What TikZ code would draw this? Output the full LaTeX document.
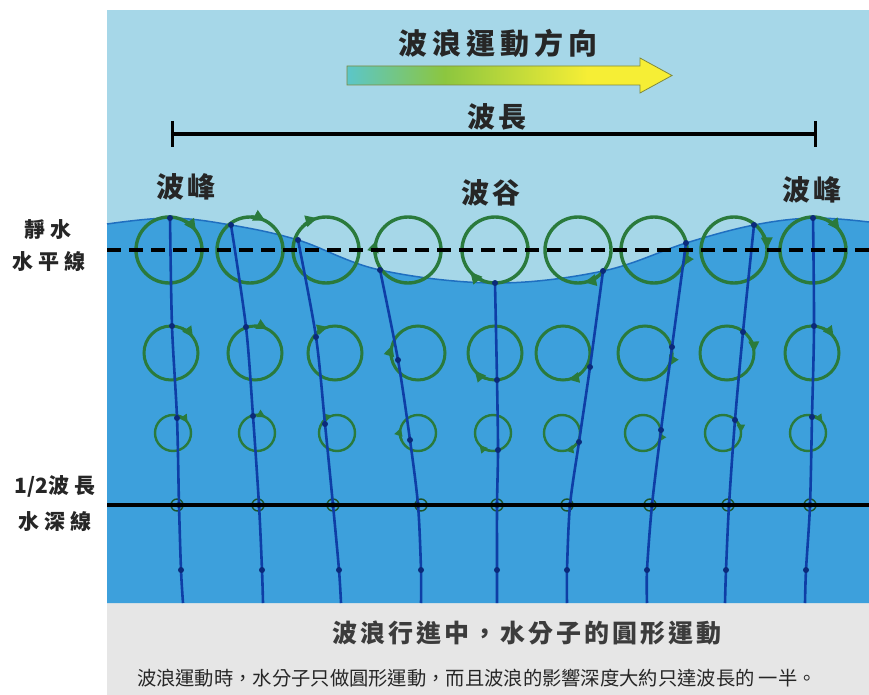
\documentclass[tikz,border=0pt]{standalone}
\usepackage{fontspec}
\newfontfamily\cjk{Noto Sans CJK TC}
\usetikzlibrary{arrows.meta,calc}

\definecolor{sky}{HTML}{A6D7E8}
\definecolor{sea}{HTML}{3DA0DC}
\definecolor{seaedge}{HTML}{1F6FC0}
\definecolor{panelgrey}{HTML}{E6E6E6}
\definecolor{orbit}{HTML}{2A7A3C}
\definecolor{streak}{HTML}{0E3EA6}
\definecolor{dotnavy}{HTML}{0B2A7A}
\definecolor{inktext}{HTML}{262626}
\definecolor{gradA}{HTML}{5BC6C9}
\definecolor{gradB}{HTML}{8CC63F}
\definecolor{gradC}{HTML}{F6EE35}
\definecolor{arrowedge}{HTML}{7F8A3C}

% teal -> green -> yellow along the travel arrow
\pgfdeclarehorizontalshading{travelgrad}{100bp}{color(0bp)=(gradA); color(25bp)=(gradA); color(40bp)=(gradB); color(62bp)=(gradC); color(100bp)=(gradC)}

\tikzset{
  orbitA/.style={draw=orbit, line width=3.4pt},
  orbitB/.style={draw=orbit, line width=3pt},
  orbitC/.style={draw=orbit, line width=2.4pt},
  orbitD/.style={draw=orbit!70!black, line width=1.4pt},
  streakline/.style={draw=streak, line width=2.6pt},
  headtext/.style={text=inktext, inner sep=0pt,
    font=\cjk\bfseries\fontsize{29}{29}\selectfont\addfontfeatures{LetterSpace=17}},
  tagtext/.style={text=inktext, inner sep=0pt,
    font=\cjk\bfseries\fontsize{28}{28}\selectfont\addfontfeatures{LetterSpace=14}},
  sidetext/.style={text=inktext, inner sep=0pt,
    font=\cjk\bfseries\fontsize{21}{21}\selectfont\addfontfeatures{LetterSpace=24}},
  captionhead/.style={text=inktext!90, inner sep=0pt,
    font=\cjk\bfseries\fontsize{25}{25}\selectfont\addfontfeatures{LetterSpace=12}},
  captionbody/.style={text=inktext, inner sep=0pt,
    font=\cjk\fontsize{19.3}{19.3}\selectfont},
}

\begin{document}
\begin{tikzpicture}[x=1pt,y=-1pt]
\useasboundingbox (0,0) rectangle (869,695);
\fill[white] (0,0) rectangle (869,695);

% panel: sky, water, caption strip
\fill[sky] (107,10) rectangle (869,603);
\fill[panelgrey] (107,603) rectangle (869,695);
\fill[sea] (107,603) -- (107,224) -- plot[smooth, tension=0.6] coordinates
  {(107,224) (170,218) (231,225) (298,240) (380,270) (495,283) (603,271) (686,243) (754,225) (813,218) (869,222)}
  -- (869,603) -- cycle;
\draw[seaedge, line width=1.5pt] plot[smooth, tension=0.6] coordinates
  {(107,224) (170,218) (231,225) (298,240) (380,270) (495,283) (603,271) (686,243) (754,225) (813,218) (869,222)};

% orbits, surface row
\foreach \cx/\ang in {169/-35,250/-62,326/-105,408/-163,495/139,578/79,654/30,734/-1,813/-36} {
  \draw[orbitA] (\cx,250) circle[radius=33];
  \draw[orbitA, -{Triangle[length=12pt,width=11pt]}] ($(\cx,250)+(\ang-26:33)$) arc[start angle=\ang-26, end angle=\ang, radius=33];
}
% second row
\foreach \cx/\ang in {171/-35,255/-62,335/-105,418/-163,495/139,563/79,645/30,727/-1,812/-36} {
  \draw[orbitB] (\cx,353) circle[radius=27];
  \draw[orbitB, -{Triangle[length=11pt,width=10pt]}] ($(\cx,353)+(\ang-30:27)$) arc[start angle=\ang-30, end angle=\ang, radius=27];
}
% third row
\foreach \cx/\ang in {173/-35,257/-62,337/-105,418/-163,493/139,562/79,643/30,723/-1,808/-36} {
  \draw[orbitC] (\cx,433) circle[radius=18];
  \draw[orbitC, -{Triangle[length=8pt,width=8pt]}] ($(\cx,433)+(\ang-40:18)$) arc[start angle=\ang-40, end angle=\ang, radius=18];
}
% fourth row (half-wavelength depth)
\foreach \cx in {177,258,333,421,497,567,650,728,810} {
  \draw[orbitD] (\cx,505) circle[radius=6];
}

% particle streak lines
\draw[streakline] plot[smooth, tension=0.5] coordinates {(170,218) (172,326) (177,418) (179,505) (181,570) (183,603)};
\draw[streakline] plot[smooth, tension=0.5] coordinates {(231,225) (246,327) (253,416) (259,505) (262,570) (263,603)};
\draw[streakline] plot[smooth, tension=0.5] coordinates {(298,240) (316,337) (325,424) (333,505) (339,570) (341,603)};
\draw[streakline] plot[smooth, tension=0.5] coordinates {(380,270) (398,360) (410,440) (418,505) (421,570) (421,603)};
\draw[streakline] plot[smooth, tension=0.5] coordinates {(495,283) (497,380) (498,450) (497,505) (497,570) (497,603)};
\draw[streakline] plot[smooth, tension=0.5] coordinates {(603,271) (590,367) (579,442) (570,505) (567,570) (567,603)};
\draw[streakline] plot[smooth, tension=0.5] coordinates {(686,243) (672,347) (661,430) (652,505) (647,570) (647,603)};
\draw[streakline] plot[smooth, tension=0.5] coordinates {(754,225) (743,332) (735,420) (729,505) (726,570) (725,603)};
\draw[streakline] plot[smooth, tension=0.5] coordinates {(813,218) (814,326) (812,417) (810,505) (806,570) (805,603)};

% water particles
\foreach \px/\py in {170/218,231/225,298/240,380/270,495/283,603/271,686/243,754/225,813/218,
  172/326,246/327,316/337,398/360,497/380,590/367,672/347,743/332,814/326,
  177/418,253/416,325/424,410/440,498/450,579/442,661/430,735/420,812/417,
  179/505,259/505,333/505,418/505,497/505,570/505,652/505,729/505,810/505,
  181/570,262/570,339/570,421/570,497/570,567/570,647/570,726/570,806/570} {
  \fill[dotnavy] (\px,\py) circle[radius=3];
}

% still-water level and half-wavelength depth
\draw[black, line width=4pt, dash pattern=on 14pt off 8pt] (107,250) -- (869,250);
\draw[black, line width=3.5pt] (107,505) -- (869,505);

% travel arrow
\shadedraw[shading=travelgrad, draw=arrowedge, line width=0.8pt]
  (347,66) -- (640,66) -- (640,58) -- (672,75.5) -- (640,93) -- (640,85) -- (347,85) -- cycle;
\node[headtext] (heading) at (498,43) {波浪運動方向};

% wavelength bar
\draw[black, line width=3.5pt] (172,134) -- (815,134);
\draw[black, line width=3pt] (172,121) -- (172,147);
\draw[black, line width=3pt] (815,121) -- (815,147);
\node[tagtext] (wavelength) at (497,117) {波長};

\node[tagtext] (crestleft) at (186,187) {波峰};
\node[tagtext] (trough) at (491,193) {波谷};
\node[tagtext] (crestright) at (812,190) {波峰};

% side labels
\node[sidetext] (stillA) at (48,230) {靜水};
\node[sidetext] (stillB) at (49,262) {水平線};
\node[sidetext] (depthA) at (55,486) {{\addfontfeatures{LetterSpace=0}1/2}波長};
\node[sidetext] (depthB) at (55,522) {水深線};

% caption
\node[captionhead] (caption) at (527,633) {波浪行進中，水分子的圓形運動};
\node[captionbody] (note) at (477,678) {波浪運動時，水分子只做圓形運動，而且波浪的影響深度大約只達波長的 一半。};
\end{tikzpicture}
\end{document}
